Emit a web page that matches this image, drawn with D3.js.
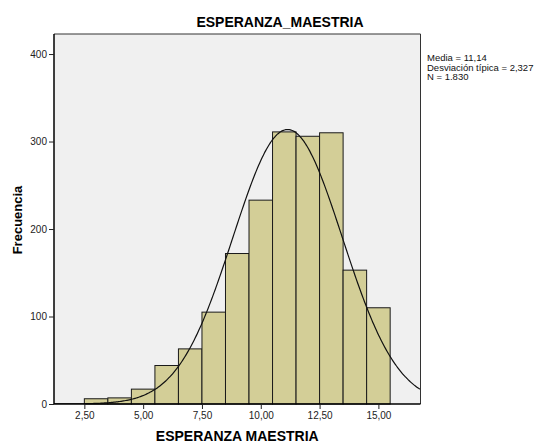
<!DOCTYPE html>
<html>
<head>
<meta charset="utf-8">
<script src="https://cdn.jsdelivr.net/npm/d3@7"></script>
<style>
  html, body { margin: 0; padding: 0; background: #ffffff; }
  svg { display: block; font-family: "Liberation Sans", Arial, sans-serif; }
</style>
</head>
<body>
<svg id="chart" width="537" height="443"></svg>
<script>
// Histogram bins (lower edge, upper edge) and frequencies
const binStarts = [2.5, 3.5, 4.5, 5.5, 6.5, 7.5, 8.5, 9.5, 10.5, 11.5, 12.5, 13.5, 14.5];
const binEnds   = [3.5, 4.5, 5.5, 6.5, 7.5, 8.5, 9.5, 10.5, 11.5, 12.5, 13.5, 14.5, 15.5];
const counts    = [6, 7, 17, 44, 63, 105, 172, 233, 311, 306, 310, 153, 110];

const xTicks = [2.5, 5, 7.5, 10, 12.5, 15];
const yTicks = [0, 100, 200, 300, 400];

const mean = 11.14;
const sd = 2.327;
const n = 1830;
const statLines = ["Media = 11,14", "Desviación típica = 2,327", "N = 1.830"];

const svg = d3.select("#chart");
const plot = { left: 54, right: 420.5, top: 34, bottom: 404 };

const x = d3.scaleLinear().domain([1.21, 16.79]).range([plot.left, plot.right]);
const y = d3.scaleLinear().domain([0, 422.9]).range([plot.bottom, plot.top]);

const fmt = v => d3.format(".2f")(v).replace(".", ",");

// Plot background
svg.append("rect")
  .attr("x", plot.left).attr("y", plot.top)
  .attr("width", plot.right - plot.left).attr("height", plot.bottom - plot.top)
  .attr("fill", "#f0f0f0");

// Bars
svg.append("g").selectAll("rect")
  .data(counts)
  .join("rect")
  .attr("x", (d, i) => x(binStarts[i]))
  .attr("y", d => y(d))
  .attr("width", (d, i) => x(binEnds[i]) - x(binStarts[i]))
  .attr("height", d => y(0) - y(d))
  .attr("fill", "#d3ce97")
  .attr("stroke", "#1a1a1a")
  .attr("stroke-width", 1);

// Normal curve scaled to counts (bin width 1)
svg.append("clipPath").attr("id", "plotClip")
  .append("rect")
  .attr("x", plot.left).attr("y", plot.top)
  .attr("width", plot.right - plot.left).attr("height", plot.bottom - plot.top);

const binWidth = binEnds[0] - binStarts[0];
const normal = v => n * binWidth / (sd * Math.sqrt(2 * Math.PI)) * Math.exp(-0.5 * ((v - mean) / sd) ** 2);
const xs = d3.range(x.domain()[0], x.domain()[1] + 0.001, 0.05);
svg.append("path")
  .datum(xs)
  .attr("clip-path", "url(#plotClip)")
  .attr("fill", "none")
  .attr("stroke", "#111")
  .attr("stroke-width", 1.2)
  .attr("d", d3.line().x(v => x(v)).y(v => y(normal(v))).curve(d3.curveBasis));

// Frame (top and right)
svg.append("path")
  .attr("d", `M${plot.left},${plot.top}H${plot.right}V${plot.bottom}`)
  .attr("fill", "none").attr("stroke", "#333").attr("stroke-width", 1);

// Axes
const yAxis = svg.append("g")
  .attr("transform", `translate(${plot.left},0)`)
  .call(d3.axisLeft(y).tickValues(yTicks).tickSize(5).tickPadding(2).tickFormat(d3.format("d")));
const xAxis = svg.append("g")
  .attr("transform", `translate(0,${plot.bottom})`)
  .call(d3.axisBottom(x).tickValues(xTicks).tickSize(5).tickPadding(3).tickFormat(fmt));

[yAxis, xAxis].forEach(g => {
  g.select(".domain").attr("stroke", "#000").attr("stroke-width", 1.5);
  g.selectAll(".tick line").attr("stroke", "#222");
  g.selectAll(".tick text")
    .attr("font-family", "Liberation Sans, Arial, sans-serif")
    .attr("font-size", 10).attr("fill", "#222");
});
yAxis.select(".domain").attr("d", `M0,${plot.top}V${plot.bottom}`);
xAxis.select(".domain").attr("d", `M${plot.left},0H${plot.right}`);

// Titles
svg.append("text")
  .attr("x", 280).attr("y", 27)
  .attr("text-anchor", "middle")
  .attr("font-size", 14).attr("font-weight", "bold").attr("fill", "#000")
  .text("ESPERANZA_MAESTRIA");

svg.append("text")
  .attr("x", (plot.left + plot.right) / 2).attr("y", 441)
  .attr("text-anchor", "middle")
  .attr("font-size", 14).attr("font-weight", "bold").attr("fill", "#000")
  .text("ESPERANZA MAESTRIA");

svg.append("text")
  .attr("transform", `translate(22,${(plot.top + plot.bottom) / 2 + 1}) rotate(-90)`)
  .attr("text-anchor", "middle")
  .attr("font-size", 13).attr("font-weight", "bold").attr("fill", "#000")
  .text("Frecuencia");

// Summary statistics
svg.append("g").selectAll("text")
  .data(statLines)
  .join("text")
  .attr("x", 427)
  .attr("y", (d, i) => 61 + i * 9.7)
  .attr("font-size", 9.5).attr("fill", "#111")
  .text(d => d);
</script>
</body>
</html>
